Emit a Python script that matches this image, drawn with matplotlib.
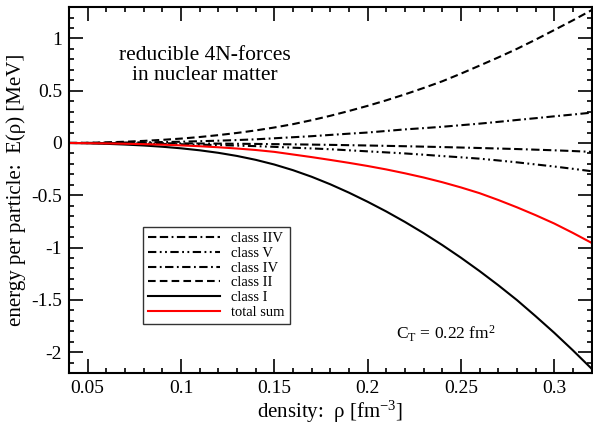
import numpy as np
import matplotlib
matplotlib.use("Agg")
import matplotlib.pyplot as plt
from matplotlib.ticker import MultipleLocator

plt.rcParams['font.family'] = ['Liberation Serif', 'DejaVu Serif']
plt.rcParams['mathtext.fontset'] = 'custom'
plt.rcParams['mathtext.rm'] = 'Liberation Serif'
plt.rcParams['mathtext.it'] = 'Liberation Serif:italic'
plt.rcParams['lines.scale_dashes'] = False

# density grid [fm^-3] and energy per particle [MeV]
rho = [0.04, 0.05, 0.06, 0.07, 0.08, 0.09, 0.10, 0.11, 0.12, 0.13, 0.14, 0.15, 0.16, 0.17, 0.18,
       0.19, 0.20, 0.21, 0.22, 0.23, 0.24, 0.25, 0.26, 0.27, 0.28, 0.29, 0.30, 0.31, 0.32]
class_I = [0.0, -0.003, -0.008, -0.015, -0.024, -0.036, -0.051, -0.07, -0.094, -0.124, -0.161, -0.206,
           -0.26, -0.323, -0.395, -0.475, -0.562, -0.655, -0.755, -0.862, -0.976, -1.097, -1.225, -1.36,
           -1.502, -1.656, -1.815, -1.983, -2.158]
class_II = [0.0, 0.002, 0.006, 0.012, 0.02, 0.03, 0.042, 0.057, 0.075, 0.096, 0.12, 0.148, 0.18,
            0.218, 0.26, 0.306, 0.355, 0.408, 0.465, 0.526, 0.59, 0.663, 0.74, 0.818, 0.90, 0.988,
            1.08, 1.173, 1.27]
class_IV = [0.0, 0.001, 0.002, 0.004, 0.006, 0.009, 0.012, 0.017, 0.022, 0.028, 0.035, 0.045, 0.055,
            0.065, 0.077, 0.089, 0.10, 0.115, 0.13, 0.142, 0.155, 0.17, 0.185, 0.202, 0.22, 0.237,
            0.255, 0.272, 0.29]
class_IIV = [0.0, -0.0005, -0.001, -0.0015, -0.002, -0.003, -0.004, -0.005, -0.006, -0.0075, -0.009,
             -0.011, -0.013, -0.0155, -0.018, -0.021, -0.024, -0.0275, -0.031, -0.035, -0.039,
             -0.0435, -0.048, -0.053, -0.058, -0.064, -0.07, -0.077, -0.085]
class_V = [0.0, -0.001, -0.002, -0.004, -0.006, -0.009, -0.012, -0.016, -0.02, -0.025, -0.03, -0.037,
           -0.045, -0.052, -0.06, -0.07, -0.08, -0.09, -0.10, -0.112, -0.125, -0.137, -0.15, -0.167,
           -0.185, -0.205, -0.225, -0.247, -0.27]
total = [0.0, -0.002, -0.004, -0.007, -0.011, -0.016, -0.023, -0.031, -0.041, -0.053, -0.067, -0.085,
         -0.11, -0.135, -0.162, -0.19, -0.22, -0.253, -0.29, -0.33, -0.375, -0.425, -0.48, -0.545,
         -0.615, -0.69, -0.77, -0.86, -0.955]

fig = plt.figure(figsize=(5.93, 4.28), dpi=100)
ax = fig.add_axes([0.1164, 0.1285, 0.8811, 0.855])

lw = 1.5
ax.plot(rho, class_IIV, color='black', lw=lw, dashes=(6, 2.5, 6, 2.5, 1.3, 2.5), label='class IIV')
ax.plot(rho, class_V, color='black', lw=lw, dashes=(6, 2.5, 1.3, 2.5, 1.3, 2.5), label='class V')
ax.plot(rho, class_IV, color='black', lw=lw, dashes=(6, 2.5, 1.3, 2.5), label='class IV')
ax.plot(rho, class_II, color='black', lw=lw, dashes=(5.5, 3), label='class II')
ax.plot(rho, class_I, color='black', lw=lw, label='class I')
ax.plot(rho, total, color='red', lw=lw, label='total sum')

ax.set_xlim(0.04, 0.32)
ax.set_ylim(-2.2, 1.3)
ax.xaxis.set_minor_locator(MultipleLocator(0.01))
ax.yaxis.set_minor_locator(MultipleLocator(0.1))
ax.set_xticks([0.05, 0.1, 0.15, 0.2, 0.25, 0.3])
ax.set_xticklabels(['0.05', '0.1', '0.15', '0.2', '0.25', '0.3'])
ax.set_yticks([-2, -1.5, -1, -0.5, 0, 0.5, 1])
ax.set_yticklabels(['-2', '-1.5', '-1', '-0.5', '0', '0.5', '1'])
ax.tick_params(which='both', direction='in', top=True, right=True, labelsize=14, width=1.2)
ax.tick_params(which='major', length=10, pad=5)
ax.tick_params(which='minor', length=3.6)
for s in ax.spines.values():
    s.set_linewidth(1.5)

ax.set_xlabel('density:  ρ [fm$^{\\mathregular{-3}}$]', fontsize=15, labelpad=1)
ax.set_ylabel('energy per particle:  E(ρ) [MeV]', fontsize=15, labelpad=4)

ax.text(0.1127, 0.74, 'reducible 4N-forces\nin nuclear matter', fontsize=15.5,
        ha='center', va='center', linespacing=1.05)
ax.text(0.2152, -1.88, r'C$_\mathregular{T}$ = 0.22 fm$^\mathregular{2}$', fontsize=12.5)

leg = ax.legend(loc='upper left', bbox_to_anchor=(0.142, 0.399), fontsize=10.5,
                frameon=True, fancybox=False, edgecolor='black', handlelength=4.9,
                labelspacing=0.1, borderpad=0.35, handletextpad=0.8, borderaxespad=0)
leg.get_frame().set_linewidth(1.0)

fig.savefig('out.png', dpi=100)
